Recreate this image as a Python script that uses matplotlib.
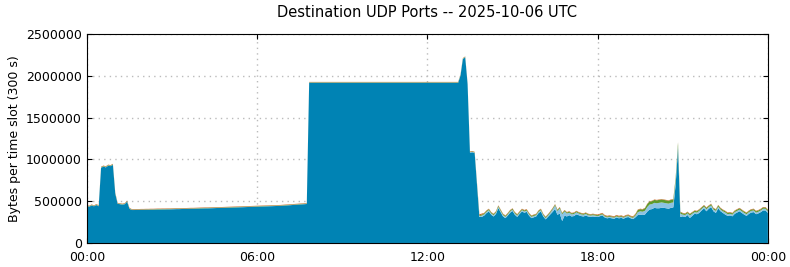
import matplotlib
matplotlib.use("Agg")
import matplotlib.pyplot as plt
from matplotlib.ticker import FuncFormatter, MultipleLocator

# 5-minute slots, 00:00 .. 24:00, values in kB per slot (300 s)
main_k = [
    # 00h
    444, 434, 449, 439, 454, 439, 899, 914, 904, 924, 919, 934,
    # 01h
    589, 469, 464, 459, 464, 494, 409, 394, 394, 395, 395, 396,
    # 02h
    396, 397, 397, 398, 398, 399, 400, 400, 401, 401, 402, 402,
    # 03h
    403, 404, 405, 405, 406, 407, 407, 408, 409, 409, 410, 411,
    # 04h
    412, 413, 414, 414, 415, 416, 417, 418, 418, 419, 420, 421,
    # 05h
    422, 423, 424, 425, 426, 427, 428, 429, 430, 431, 432, 433,
    # 06h
    434, 435, 436, 437, 438, 439, 440, 441, 442, 443, 444, 446,
    # 07h
    448, 450, 452, 454, 456, 458, 460, 462, 464, 466, 1915, 1915,
    # 08h
    1915, 1915, 1915, 1915, 1915, 1915, 1915, 1915, 1915, 1915, 1915, 1915,
    # 09h
    1915, 1915, 1915, 1915, 1915, 1915, 1915, 1915, 1915, 1915, 1915, 1915,
    # 10h
    1915, 1915, 1915, 1915, 1915, 1915, 1915, 1915, 1915, 1915, 1915, 1915,
    # 11h
    1915, 1915, 1915, 1915, 1915, 1915, 1915, 1915, 1915, 1915, 1915, 1915,
    # 12h
    1915, 1915, 1915, 1915, 1915, 1915, 1915, 1915, 1915, 1915, 1915, 1915,
    # 13h
    1915, 1915, 2000, 2200, 2220, 1900, 1080, 1085, 1075, 690, 310, 312,
    # 14h
    327, 357, 377, 337, 317, 347, 417, 367, 317, 297, 327, 362,
    # 15h
    382, 337, 312, 347, 377, 362, 372, 327, 297, 307, 317, 357,
    # 16h
    377, 317, 282, 312, 342, 372, 407, 337, 352, 262, 327, 317,
    # 17h
    332, 317, 322, 342, 332, 322, 317, 327, 317, 312, 317, 312,
    # 18h
    310, 320, 330, 305, 295, 300, 295, 290, 305, 295, 300, 290,
    # 19h
    305, 310, 295, 285, 307, 334, 339, 334, 340, 375, 400, 405,
    # 20h
    420, 415, 415, 420, 420, 415, 410, 420, 425, 700, 1130, 310,
    # 21h
    319, 309, 334, 299, 324, 349, 344, 359, 389, 414, 379, 409,
    # 22h
    429, 379, 359, 414, 379, 359, 339, 324, 329, 319, 349, 364,
    # 23h (+ 24:00)
    379, 359, 339, 324, 349, 364, 369, 344, 354, 369, 389, 389, 359,
]

lightblue_k = [
    2, 2, 3, 2, 2, 3, 3, 2, 3, 3, 2, 3,
    3, 2, 2, 2, 3, 2, 2, 2, 2, 2, 2, 2,
    2, 2, 2, 2, 2, 2, 2, 2, 2, 2, 2, 2,
    2, 2, 2, 2, 2, 2, 2, 2, 2, 2, 2, 2,
    2, 2, 2, 2, 2, 2, 2, 2, 2, 2, 2, 2,
    2, 2, 2, 2, 2, 2, 2, 2, 2, 2, 2, 2,
    2, 2, 2, 2, 2, 2, 2, 2, 2, 2, 2, 2,
    2, 2, 2, 2, 2, 2, 2, 2, 2, 2, 3, 3,
    3, 3, 3, 3, 3, 3, 3, 3, 3, 3, 3, 3,
    3, 3, 3, 3, 3, 3, 3, 3, 3, 3, 3, 3,
    3, 3, 3, 3, 3, 3, 3, 3, 3, 3, 3, 3,
    3, 3, 3, 3, 3, 3, 3, 3, 3, 3, 3, 3,
    3, 3, 3, 3, 3, 3, 3, 3, 3, 3, 3, 3,
    3, 3, 3, 3, 3, 3, 5, 5, 5, 8, 12, 15,
    15, 15, 15, 15, 15, 15, 15, 15, 15, 15, 15, 15,
    15, 15, 15, 15, 15, 15, 15, 15, 15, 15, 15, 15,
    15, 15, 15, 15, 20, 30, 40, 45, 60, 80, 50, 35,
    30, 25, 25, 25, 20, 20, 20, 20, 15, 15, 15, 15,
    12, 12, 12, 12, 12, 12, 12, 12, 12, 12, 12, 12,
    12, 12, 12, 15, 20, 35, 40, 40, 45, 55, 60, 60,
    60, 60, 65, 65, 60, 60, 60, 60, 60, 45, 30, 40,
    20, 25, 20, 30, 25, 20, 20, 25, 20, 20, 25, 20,
    20, 20, 25, 20, 20, 20, 25, 20, 20, 20, 20, 20,
    20, 20, 20, 20, 20, 20, 20, 20, 20, 20, 20, 20, 20,
]

green_k = [
    4, 4, 4, 4, 4, 4, 5, 5, 5, 5, 5, 5,
    5, 4, 4, 4, 4, 4, 4, 4, 4, 4, 4, 4,
    4, 4, 4, 4, 4, 4, 4, 4, 4, 4, 4, 4,
    4, 4, 4, 4, 4, 4, 4, 4, 4, 4, 4, 4,
    4, 4, 4, 4, 4, 4, 4, 4, 4, 4, 4, 4,
    4, 4, 4, 4, 4, 4, 4, 4, 4, 4, 4, 4,
    4, 4, 4, 4, 4, 4, 4, 4, 4, 4, 4, 4,
    4, 4, 4, 4, 4, 4, 4, 4, 4, 4, 4, 4,
    4, 4, 4, 4, 4, 4, 4, 4, 4, 4, 4, 4,
    4, 4, 4, 4, 4, 4, 4, 4, 4, 4, 4, 4,
    4, 4, 4, 4, 4, 4, 4, 4, 4, 4, 4, 4,
    4, 4, 4, 4, 4, 4, 4, 4, 4, 4, 4, 4,
    4, 4, 4, 4, 4, 4, 4, 4, 4, 4, 4, 4,
    4, 4, 4, 4, 4, 4, 5, 5, 5, 8, 10, 12,
    12, 12, 12, 12, 12, 12, 12, 12, 12, 12, 12, 12,
    12, 12, 12, 12, 12, 12, 12, 12, 12, 12, 12, 12,
    12, 12, 12, 12, 12, 12, 12, 12, 12, 12, 12, 12,
    12, 12, 12, 12, 12, 12, 12, 12, 12, 12, 12, 12,
    10, 10, 10, 10, 10, 10, 10, 10, 10, 10, 10, 10,
    10, 10, 10, 12, 15, 25, 25, 25, 30, 35, 35, 35,
    35, 35, 35, 35, 35, 35, 35, 35, 35, 35, 40, 20,
    15, 15, 15, 15, 15, 15, 15, 15, 15, 15, 15, 15,
    15, 15, 15, 15, 15, 15, 15, 15, 15, 15, 15, 15,
    15, 15, 15, 15, 15, 15, 15, 15, 15, 15, 15, 15, 15,
]

orange_k = [
    5, 5, 5, 5, 5, 5, 5, 5, 5, 5, 5, 5,
    5, 5, 5, 5, 5, 5, 5, 5, 5, 5, 5, 5,
    5, 5, 5, 5, 5, 5, 5, 5, 5, 5, 5, 5,
    5, 5, 5, 5, 5, 5, 5, 5, 5, 5, 5, 5,
    5, 5, 5, 5, 5, 5, 5, 5, 5, 5, 5, 5,
    5, 5, 5, 5, 5, 5, 5, 5, 5, 5, 5, 5,
    5, 5, 5, 5, 5, 5, 5, 5, 5, 5, 5, 5,
    5, 5, 5, 5, 5, 5, 5, 5, 5, 5, 4, 4,
    4, 4, 4, 4, 4, 4, 4, 4, 4, 4, 4, 4,
    4, 4, 4, 4, 4, 4, 4, 4, 4, 4, 4, 4,
    4, 4, 4, 4, 4, 4, 4, 4, 4, 4, 4, 4,
    4, 4, 4, 4, 4, 4, 4, 4, 4, 4, 4, 4,
    4, 4, 4, 4, 4, 4, 4, 4, 4, 4, 4, 4,
    4, 4, 4, 4, 4, 4, 5, 5, 5, 8, 12, 12,
    6, 6, 6, 6, 6, 6, 6, 6, 6, 6, 6, 6,
    6, 6, 6, 6, 6, 6, 6, 6, 6, 6, 6, 6,
    6, 6, 6, 6, 6, 6, 6, 6, 6, 6, 6, 6,
    6, 6, 6, 6, 6, 6, 6, 6, 6, 6, 6, 6,
    8, 8, 8, 8, 8, 8, 8, 8, 8, 8, 8, 8,
    8, 8, 8, 8, 8, 6, 6, 6, 5, 5, 5, 5,
    5, 5, 5, 5, 5, 5, 5, 5, 5, 5, 5, 5,
    6, 6, 6, 6, 6, 6, 6, 6, 6, 6, 6, 6,
    6, 6, 6, 6, 6, 6, 6, 6, 6, 6, 6, 6,
    6, 6, 6, 6, 6, 6, 6, 6, 6, 6, 6, 6, 6,
]

colors = ["#0083b4", "#8cc3e3", "#5d9a2c", "#c8621e"]
hours = [i * 5 / 60 for i in range(len(main_k))]
series = [[v * 1000 for v in s] for s in (main_k, lightblue_k, green_k, orange_k)]

fig = plt.figure(figsize=(7.9, 2.67), dpi=100)
ax = fig.add_axes([0.110, 0.090, 0.862, 0.783])

ax.stackplot(hours, *series, colors=colors, linewidth=0)

ax.set_xlim(0, 24)
ax.set_ylim(0, 2500000)
ax.xaxis.set_major_locator(MultipleLocator(6))
ax.xaxis.set_major_formatter(FuncFormatter(lambda x, p: "%02d:00" % (int(round(x)) % 24)))
ax.yaxis.set_major_locator(MultipleLocator(500000))
ax.yaxis.set_major_formatter(FuncFormatter(lambda y, p: "%d" % y))

ax.tick_params(direction="in", top=True, right=True, labelsize=9)
ax.tick_params(axis="x", pad=6)
ax.set_axisbelow(True)
ax.grid(True, linestyle=(0, (1, 3)), color="#bbbbbb", linewidth=1)

ax.set_title("Destination UDP Ports -- 2025-10-06 UTC", fontsize=10.5, pad=12)
ax.set_ylabel("Bytes per time slot (300 s)", fontsize=9)

fig.savefig("out.png", dpi=100)
